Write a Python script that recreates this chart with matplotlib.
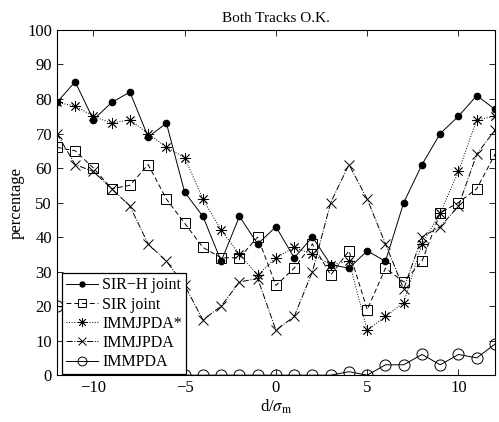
import matplotlib
matplotlib.use('Agg')
import matplotlib.pyplot as plt
import numpy as np

plt.rcParams['font.family'] = ['Liberation Serif', 'DejaVu Serif']
plt.rcParams['mathtext.fontset'] = 'stix'

# data: percentage of runs with both tracks OK vs d/sigma_m
d = list(range(-12, 13))
sir_h_joint = [79, 85, 74, 79, 82, 69, 73, 53, 46, 33, 46, 38, 43, 34, 40, 32, 31, 36, 33, 50, 61, 70, 75, 81, 77]
sir_joint = [66, 65, 60, 54, 55, 61, 51, 44, 37, 34, 34, 40, 26, 31, 38, 29, 36, 19, 31, 27, 33, 47, 50, 54, 64]
immjpda_star = [79, 78, 75, 73, 74, 70, 66, 63, 51, 42, 35, 29, 34, 37, 35, 32, 33, 13, 17, 21, 38, 47, 59, 74, 75]
immjpda = [70, 61, 59, 54, 49, 38, 33, 26, 16, 20, 27, 28, 13, 17, 30, 50, 61, 51, 38, 25, 40, 43, 49, 64, 71]
immpda = [20, 19, 10, 5, 2, 1, 0, 0, 0, 0, 0, 0, 0, 0, 0, 0, 1, 0, 3, 3, 6, 3, 6, 5, 9]

fig = plt.figure(figsize=(4.99, 4.22), dpi=100)
ax = fig.add_axes([0.114, 0.111, 0.878, 0.818])

ax.plot(d, sir_h_joint, '-', color='k', lw=0.7, marker='o', ms=4.5, mfc='k', label='SIR\u2212H joint')
ax.plot(d, sir_joint, '--', color='k', lw=0.7, marker='s', ms=7, mfc='none', mew=0.7, dashes=(5, 3), label='SIR joint')
ax.plot(d, immjpda_star, ':', color='k', lw=0.7, marker=(8, 2, 0), ms=8, mew=0.6, label='IMMJPDA*')
ax.plot(d, immjpda, '-.', color='k', lw=0.7, marker='x', ms=6.5, mew=0.7, label='IMMJPDA')
ax.plot(d, immpda, '-', color='k', lw=0.7, marker='o', ms=8, mfc='none', mew=0.7, label='IMMPDA')

ax.set_xlim(-12, 12)
ax.set_ylim(0, 100)
ax.set_xticks([-10, -5, 0, 5, 10])
ax.set_xticklabels(['\u221210', '\u22125', '0', '5', '10'])
ax.set_yticks(range(0, 101, 10))
ax.tick_params(direction='in', top=True, right=True, labelsize=12, length=4, width=0.6)
for s in ax.spines.values():
    s.set_linewidth(0.8)

ax.set_title('Both Tracks O.K.', fontsize=11, pad=6)
ax.set_xlabel(r'd/$\sigma_{\rm m}$', fontsize=12, labelpad=1)
ax.set_ylabel('percentage', fontsize=12, labelpad=2)

leg = ax.legend(loc='lower left', bbox_to_anchor=(0.012, 0.003), fontsize=11.5, frameon=True,
                fancybox=False, edgecolor='k', borderaxespad=0, handlelength=2.0,
                handletextpad=0.25, borderpad=0.25, labelspacing=0.2, markerscale=0.8)
leg.get_frame().set_linewidth(0.9)
leg.get_frame().set_alpha(1)

fig.savefig('out.png', dpi=100)
